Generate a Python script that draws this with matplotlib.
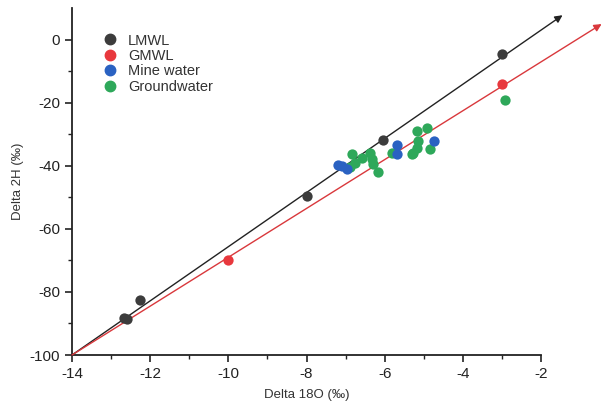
import matplotlib
matplotlib.use("Agg")
import matplotlib.pyplot as plt
from matplotlib.lines import Line2D

plt.rcParams['font.family'] = ['Liberation Sans', 'DejaVu Sans']
plt.rcParams['axes.unicode_minus'] = False

# meteoric water lines (start, end of arrow)
lmwl_line_x = [-14, -1.45]
lmwl_line_y = [-100, 7.8]
gmwl_line_x = [-14, -0.45]
gmwl_line_y = [-100, 5.0]

# sample points
lmwl_x = [-3.0, -6.04, -8.0, -12.26, -12.67, -12.6]
lmwl_y = [-4.5, -31.9, -49.5, -82.4, -88.2, -88.7]

gmwl_x = [-10.0, -3.0]
gmwl_y = [-70.0, -14.0]

mine_x = [-7.10, -6.97, -7.19, -5.69, -5.69, -4.75]
mine_y = [-40.0, -40.9, -39.8, -33.5, -36.3, -32.1]

gw_x = [-6.84, -6.89, -6.76, -6.59, -6.37, -6.33, -6.29, -6.16, -5.82,
        -5.18, -4.92, -5.14, -5.18, -5.27, -5.31, -4.84, -2.92]
gw_y = [-36.3, -40.5, -39.0, -37.4, -35.8, -37.9, -39.5, -41.8, -35.8,
        -29.0, -27.9, -32.1, -34.2, -35.8, -36.3, -34.8, -19.2]

c_black = '#3c3c3c'
c_red = '#e8383d'
c_blue = '#2a62c2'
c_green = '#2ea85a'

fig = plt.figure(figsize=(6.02, 4.08), dpi=100)
ax = fig.add_axes([0.1196, 0.1299, 0.7791, 0.8498])

ax.annotate('', xy=(lmwl_line_x[1], lmwl_line_y[1]), xytext=(lmwl_line_x[0], lmwl_line_y[0]),
            arrowprops=dict(arrowstyle='-|>', color='#222222', lw=1.0, mutation_scale=11,
                            shrinkA=0, shrinkB=0),
            annotation_clip=False)
ax.annotate('', xy=(gmwl_line_x[1], gmwl_line_y[1]), xytext=(gmwl_line_x[0], gmwl_line_y[0]),
            arrowprops=dict(arrowstyle='-|>', color='#d9383c', lw=1.0, mutation_scale=11,
                            shrinkA=0, shrinkB=0),
            annotation_clip=False)

ms = 55
ax.scatter(gw_x, gw_y, s=ms, color=c_green, zorder=3, linewidths=0)
ax.scatter(mine_x, mine_y, s=ms, color=c_blue, zorder=3, linewidths=0)
ax.scatter(gmwl_x, gmwl_y, s=ms, color=c_red, zorder=4, linewidths=0)
ax.scatter(lmwl_x, lmwl_y, s=ms, color=c_black, zorder=4, linewidths=0)

ax.set_xlim(-14, -2)
ax.set_ylim(-100, 10)
ax.set_xticks([-14, -12, -10, -8, -6, -4, -2])
ax.set_xticks([-13, -11, -9, -7, -5, -3], minor=True)
ax.set_yticks([-100, -80, -60, -40, -20, 0])
ax.set_yticks([-90, -70, -50, -30, -10], minor=True)
ax.tick_params(axis='both', which='major', direction='out', length=5, width=1.2,
               labelsize=11, colors='#222222')
ax.tick_params(axis='both', which='minor', direction='out', length=3, width=1.0,
               colors='#222222')

for side in ['top', 'right']:
    ax.spines[side].set_visible(False)
for side in ['left', 'bottom']:
    ax.spines[side].set_linewidth(1.3)
    ax.spines[side].set_color('#222222')

ax.set_xlabel('Delta 18O (‰)', fontsize=9.5, color='#333333', labelpad=6)
ax.set_ylabel('Delta 2H (‰)', fontsize=9.5, color='#333333', labelpad=4)

handles = [
    Line2D([], [], marker='o', linestyle='none', color=c_black, markersize=7.5),
    Line2D([], [], marker='o', linestyle='none', color=c_red, markersize=7.5),
    Line2D([], [], marker='o', linestyle='none', color=c_blue, markersize=7.5),
    Line2D([], [], marker='o', linestyle='none', color=c_green, markersize=7.5),
]
labels = ['LMWL', 'GMWL', 'Mine water', 'Groundwater']
ax.legend(handles, labels, loc='upper left', bbox_to_anchor=(0.035, 0.965),
          frameon=False, fontsize=10.5, handletextpad=0.6, labelspacing=0.1,
          handlelength=1.2, labelcolor='#333333')

fig.savefig('out.png', dpi=100)
